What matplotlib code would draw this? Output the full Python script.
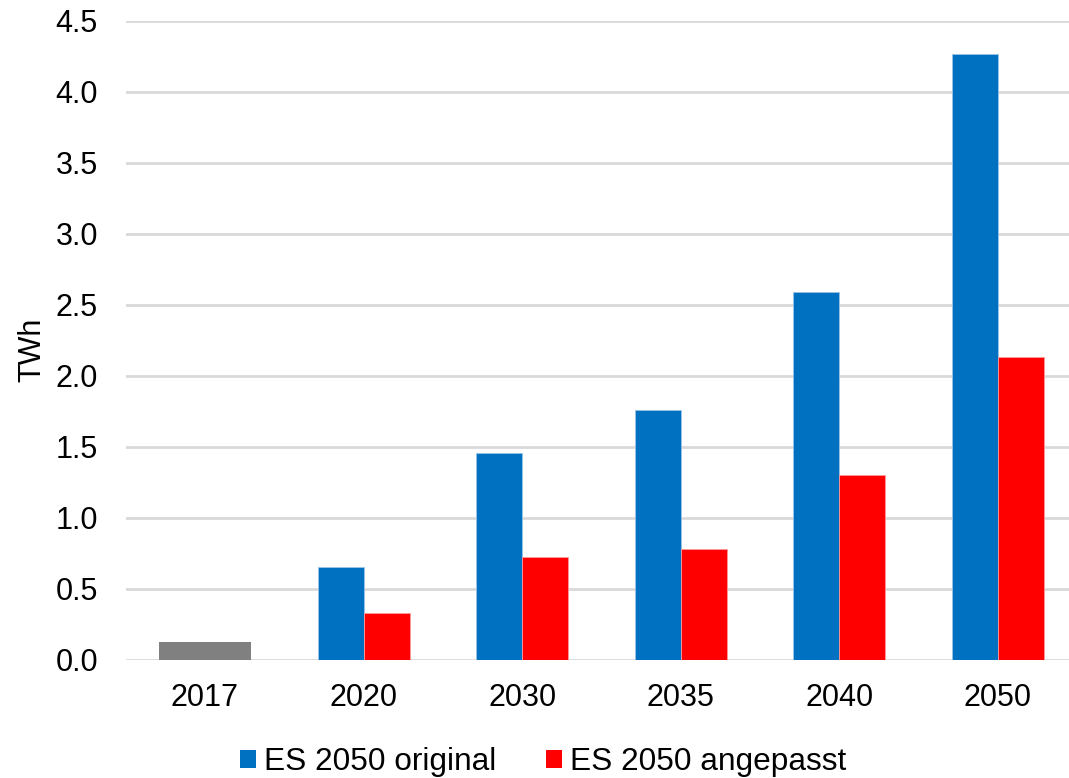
import matplotlib
matplotlib.use("Agg")
import matplotlib.pyplot as plt
import numpy as np

plt.rcParams["font.family"] = ["Liberation Sans", "DejaVu Sans"]

years = ["2017", "2020", "2030", "2035", "2040", "2050"]
historic_2017 = 0.125
es_original = [0.654, 1.457, 1.758, 2.589, 4.263]
es_angepasst = [0.325, 0.724, 0.776, 1.298, 2.129]

blue = "#0070C0"
red = "#FF0000"
grey = "#808080"

W, H = 1069, 778
fig = plt.figure(figsize=(W / 100, H / 100), dpi=100)
ax_left, ax_right, ax_top, ax_bottom = 125.7, 1069, 20.7, 659.5
ax = fig.add_axes([ax_left / W, 1 - ax_bottom / H,
                   (ax_right - ax_left) / W, (ax_bottom - ax_top) / H])

x = np.arange(len(years))
w = 0.29
ax.bar(x[0], historic_2017, width=2 * w, color=grey, zorder=3)
ax.bar(x[1:] - w / 2, es_original, width=w, color=blue, edgecolor="#9CC3E6",
       linewidth=0.6, label="ES 2050 original", zorder=3)
ax.bar(x[1:] + w / 2, es_angepasst, width=w, color=red, edgecolor="#FF9999",
       linewidth=0.6, label="ES 2050 angepasst", zorder=3)

group = (1077.3 - ax_left) / 6
ax.set_xlim(-0.5, -0.5 + (ax_right - ax_left) / group)
ax.set_ylim(0, 4.5)
ax.set_yticks(np.arange(0, 4.51, 0.5))
ax.set_yticklabels([f"{v:.1f}" for v in np.arange(0, 4.51, 0.5)])
ax.set_xticks(x)
ax.set_xticklabels(years)
ax.tick_params(axis="both", length=0, labelsize=22, colors="black")
ax.tick_params(axis="y", pad=20)
ax.tick_params(axis="x", pad=17)
ax.grid(axis="y", color="#D9D9D9", linewidth=2, zorder=0)
for s in ax.spines.values():
    s.set_visible(False)

fig.text(32 / W, 1 - 350 / H, "TWh", rotation=90, fontsize=22,
         ha="center", va="center")

handles, labels = ax.get_legend_handles_labels()
leg = fig.legend(handles, labels, loc="center", bbox_to_anchor=(543 / W, 1 - 762 / H),
                 ncol=2, frameon=False, fontsize=22.8, handlelength=0.51,
                 handleheight=0.51, handletextpad=0.26, columnspacing=1.55,
                 borderpad=0, borderaxespad=0)
for hnd in leg.legend_handles:
    hnd.set_edgecolor("none")

fig.savefig("out.png", dpi=100)
